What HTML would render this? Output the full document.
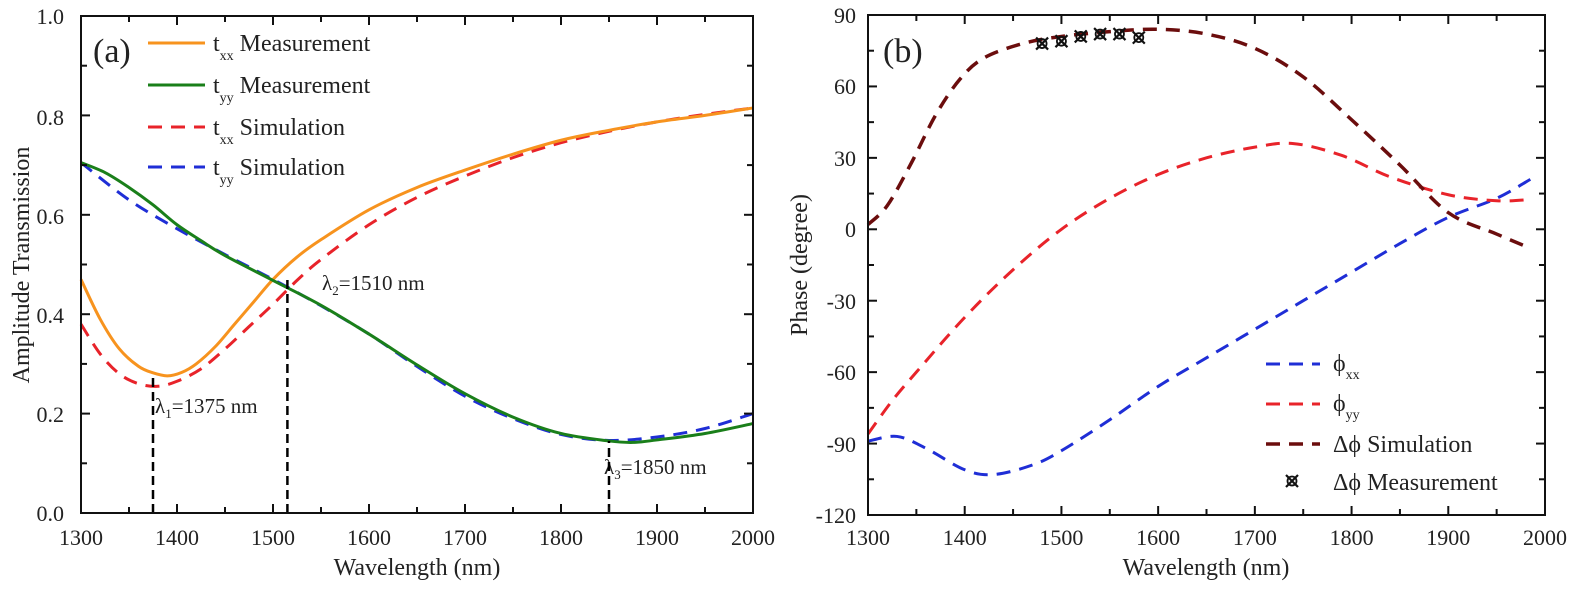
<!DOCTYPE html>
<html><head><meta charset="utf-8"><style>
html,body{margin:0;padding:0;background:#fff}
svg{display:block}
text{font-family:"Liberation Serif","DejaVu Serif",serif;fill:#222}
</style></head><body>
<svg id="s" width="1575" height="590" viewBox="0 0 1575 590" xmlns="http://www.w3.org/2000/svg">
<g font-size="22">
<text x="64" y="521" text-anchor="end">0.0</text>
<text x="64" y="422" text-anchor="end">0.2</text>
<text x="64" y="323" text-anchor="end">0.4</text>
<text x="64" y="224" text-anchor="end">0.6</text>
<text x="64" y="125" text-anchor="end">0.8</text>
<text x="64" y="24" text-anchor="end">1.0</text>
</g>
<text x="417" y="575" font-size="24" text-anchor="middle">Wavelength (nm)</text>
<text transform="translate(29,265) rotate(-90)" font-size="24" text-anchor="middle">Amplitude Transmission</text>
<text x="93" y="62" font-size="34">(a)</text>
<g font-size="24">
<text x="213" y="51">t<tspan font-size="14" dy="9">xx</tspan><tspan dy="-9"> Measurement</tspan></text>
<text x="213" y="93">t<tspan font-size="14" dy="9">yy</tspan><tspan dy="-9"> Measurement</tspan></text>
<text x="213" y="135">t<tspan font-size="14" dy="9">xx</tspan><tspan dy="-9"> Simulation</tspan></text>
<text x="213" y="175">t<tspan font-size="14" dy="9">yy</tspan><tspan dy="-9"> Simulation</tspan></text>
</g>
<line x1="148" y1="43" x2="205" y2="43" stroke="#f7931e" stroke-width="3"/>
<line x1="148" y1="85" x2="205" y2="85" stroke="#1a7f1a" stroke-width="3"/>
<line x1="148" y1="127" x2="205" y2="127" stroke="#e8232a" stroke-width="3" stroke-dasharray="14,9"/>
<line x1="148" y1="167" x2="205" y2="167" stroke="#1f2ed6" stroke-width="3" stroke-dasharray="14,9"/>
<g font-size="21">
<text x="155" y="413">λ<tspan font-size="13" dy="5">1</tspan><tspan dy="-5">=1375 nm</tspan></text>
<text x="322" y="290">λ<tspan font-size="13" dy="5">2</tspan><tspan dy="-5">=1510 nm</tspan></text>
<text x="604" y="474">λ<tspan font-size="13" dy="5">3</tspan><tspan dy="-5">=1850 nm</tspan></text>
</g>
<g font-size="22" text-anchor="end">
<text x="856" y="523">-120</text>
<text x="856" y="452">-90</text>
<text x="856" y="380">-60</text>
<text x="856" y="309">-30</text>
<text x="856" y="237">0</text>
<text x="856" y="166">30</text>
<text x="856" y="94">60</text>
<text x="856" y="23">90</text>
</g>
<text x="1206" y="575" font-size="24" text-anchor="middle">Wavelength (nm)</text>
<text transform="translate(807,265) rotate(-90)" font-size="24" text-anchor="middle">Phase (degree)</text>
<text x="883" y="62" font-size="34">(b)</text>
<g font-size="24">
<text x="1333" y="371">ϕ<tspan font-size="14" dy="8">xx</tspan></text>
<text x="1333" y="411">ϕ<tspan font-size="14" dy="8">yy</tspan></text>
<text x="1333" y="452">Δϕ Simulation</text>
<text x="1333" y="490">Δϕ Measurement</text>
</g>
<line x1="1266" y1="364" x2="1320" y2="364" stroke="#1f2ed6" stroke-width="3" stroke-dasharray="14,9"/>
<line x1="1266" y1="404" x2="1320" y2="404" stroke="#e8232a" stroke-width="3" stroke-dasharray="14,9"/>
<line x1="1266" y1="444" x2="1320" y2="444" stroke="#6b0d0d" stroke-width="3.5" stroke-dasharray="14,9"/>
<g id="g"></g>
</svg>
<script>
var g=document.getElementById('g'),NS="http://www.w3.org/2000/svg";
function el(t,a){var e=document.createElementNS(NS,t);for(var k in a)e.setAttribute(k,a[k]);g.appendChild(e);return e;}
function path(pts,st){var d="M"+pts[0][0]+","+pts[0][1];
for(var i=0;i<pts.length-1;i++){var p0=pts[i-1]||pts[i],p1=pts[i],p2=pts[i+1],p3=pts[i+2]||p2;
d+=" C"+(p1[0]+(p2[0]-p0[0])/6)+","+(p1[1]+(p2[1]-p0[1])/6)+" "+(p2[0]-(p3[0]-p1[0])/6)+","+(p2[1]-(p3[1]-p1[1])/6)+" "+p2[0]+","+p2[1];}
st.d=d;st.fill="none";el("path",st);}
var aL=81,aR=753,aT=16,aB=513;
function ax(w){return aL+(w-1300)*(aR-aL)/700}
function ay(t){return aB-t*(aB-aT)}
function A(arr){return arr.map(function(p){return [ax(p[0]),ay(p[1])]})}
var txxM=[[1300,0.47],[1320,0.39],[1340,0.33],[1360,0.295],[1375,0.282],[1390,0.276],[1405,0.283],[1420,0.3],[1440,0.335],[1460,0.38],[1480,0.425],[1500,0.47],[1525,0.515],[1550,0.55],[1600,0.61],[1650,0.655],[1700,0.69],[1750,0.722],[1800,0.75],[1850,0.77],[1900,0.787],[1950,0.8],[2000,0.815]];
var txxS=[[1300,0.38],[1320,0.32],[1340,0.28],[1360,0.26],[1380,0.255],[1400,0.265],[1425,0.29],[1450,0.33],[1475,0.375],[1500,0.42],[1525,0.468],[1550,0.51],[1600,0.58],[1650,0.635],[1700,0.678],[1750,0.715],[1800,0.745],[1850,0.768],[1900,0.787],[1950,0.802],[2000,0.815]];
var tyyM=[[1300,0.705],[1325,0.685],[1350,0.655],[1375,0.62],[1400,0.58],[1425,0.548],[1450,0.518],[1500,0.468],[1550,0.418],[1600,0.36],[1650,0.298],[1700,0.24],[1750,0.193],[1800,0.16],[1850,0.145],[1875,0.142],[1900,0.147],[1950,0.16],[2000,0.18]];
var tyyS=[[1300,0.705],[1350,0.63],[1400,0.572],[1450,0.52],[1500,0.47],[1550,0.417],[1600,0.36],[1650,0.295],[1700,0.235],[1750,0.19],[1800,0.158],[1850,0.146],[1900,0.153],[1950,0.17],[2000,0.2]];
path(A(txxS),{stroke:"#e8232a","stroke-width":3,"stroke-dasharray":"14,9"});
path(A(tyyS),{stroke:"#1f2ed6","stroke-width":3,"stroke-dasharray":"14,9"});
path(A(txxM),{stroke:"#f7931e","stroke-width":3});
path(A(tyyM),{stroke:"#1a7f1a","stroke-width":3});
[[1375,0.278],[1515,0.47],[1850,0.145]].forEach(function(v){el("line",{x1:ax(v[0]),x2:ax(v[0]),y1:aB,y2:ay(v[1]),stroke:"#000","stroke-width":2.5,"stroke-dasharray":"9,5"})});
function frame(L,R,T,B,xmin,xmax,xmaj,xmin2,ys){
el("rect",{x:L,y:T,width:R-L,height:B-T,fill:"none",stroke:"#111","stroke-width":2});
for(var w=xmin;w<=xmax;w+=xmin2){var x=L+(w-xmin)*(R-L)/(xmax-xmin),len=((w-xmin)%xmaj==0)?9:6;
el("line",{x1:x,x2:x,y1:B,y2:B-len,stroke:"#111","stroke-width":2});el("line",{x1:x,x2:x,y1:T,y2:T+len,stroke:"#111","stroke-width":2});}
ys.forEach(function(y){el("line",{x1:L,x2:L+y[1],y1:y[0],y2:y[0],stroke:"#111","stroke-width":2});el("line",{x1:R,x2:R-y[1],y1:y[0],y2:y[0],stroke:"#111","stroke-width":2});});}
var ysa=[];for(var i=0;i<=10;i++)ysa.push([ay(i/10),i%2?6:9]);
frame(aL,aR,aT,aB,1300,2000,100,50,ysa);
for(var w=1300;w<=2000;w+=100){var t=el("text",{x:ax(w),y:545,"font-size":22,"text-anchor":"middle"});t.textContent=w;}
var bL=868,bR=1545,bT=15,bB=515;
function bx(w){return bL+(w-1300)*(bR-bL)/700}
function by(p){return bB-(p+120)*(bB-bT)/210}
function B(arr){return arr.map(function(p){return [bx(p[0]),by(p[1])]})}
var dS=[[1300,2],[1320,10],[1345,28],[1370,48],[1395,63],[1420,72],[1460,78],[1500,81],[1550,83],[1600,84],[1650,82],[1700,76],[1750,64],[1800,46],[1850,27],[1900,7],[1950,-2],[1985,-8]];
var yyS=[[1300,-86],[1325,-72],[1350,-60],[1400,-37],[1450,-17],[1500,0],[1550,13],[1600,23],[1650,30],[1700,34.5],[1740,36],[1790,31],[1840,22],[1900,14.5],[1950,12],[1985,12.5]];
var xxS=[[1300,-89],[1330,-87],[1360,-92],[1400,-101],[1430,-103],[1470,-99],[1500,-93],[1550,-80],[1600,-66],[1650,-54],[1700,-42],[1750,-30],[1800,-18],[1850,-6],[1900,5],[1950,13],[1985,21]];
path(B(xxS),{stroke:"#1f2ed6","stroke-width":3,"stroke-dasharray":"14,9"});
path(B(yyS),{stroke:"#e8232a","stroke-width":3,"stroke-dasharray":"14,9"});
path(B(dS),{stroke:"#6b0d0d","stroke-width":3.5,"stroke-dasharray":"14,9"});
function cross(x,y){el("path",{d:"M"+(x-6)+","+(y-6)+"L"+(x+6)+","+(y+6)+"M"+(x+6)+","+(y-6)+"L"+(x-6)+","+(y+6),stroke:"#111","stroke-width":2.2,fill:"none"});
el("circle",{cx:x,cy:y,r:4.5,stroke:"#111","stroke-width":1.8,fill:"none"});}
[[1480,78],[1500,79],[1520,81],[1540,82],[1560,82],[1580,80.5]].forEach(function(p){cross(bx(p[0]),by(p[1]));});
cross(1292,481);
var ysb=[];for(var p=-120;p<=90;p+=15)ysb.push([by(p),(p%30==0)?9:6]);
frame(bL,bR,bT,bB,1300,2000,100,50,ysb);
for(var w=1300;w<=2000;w+=100){var t=el("text",{x:bx(w),y:545,"font-size":22,"text-anchor":"middle"});t.textContent=w;}
</script>
</body></html>
